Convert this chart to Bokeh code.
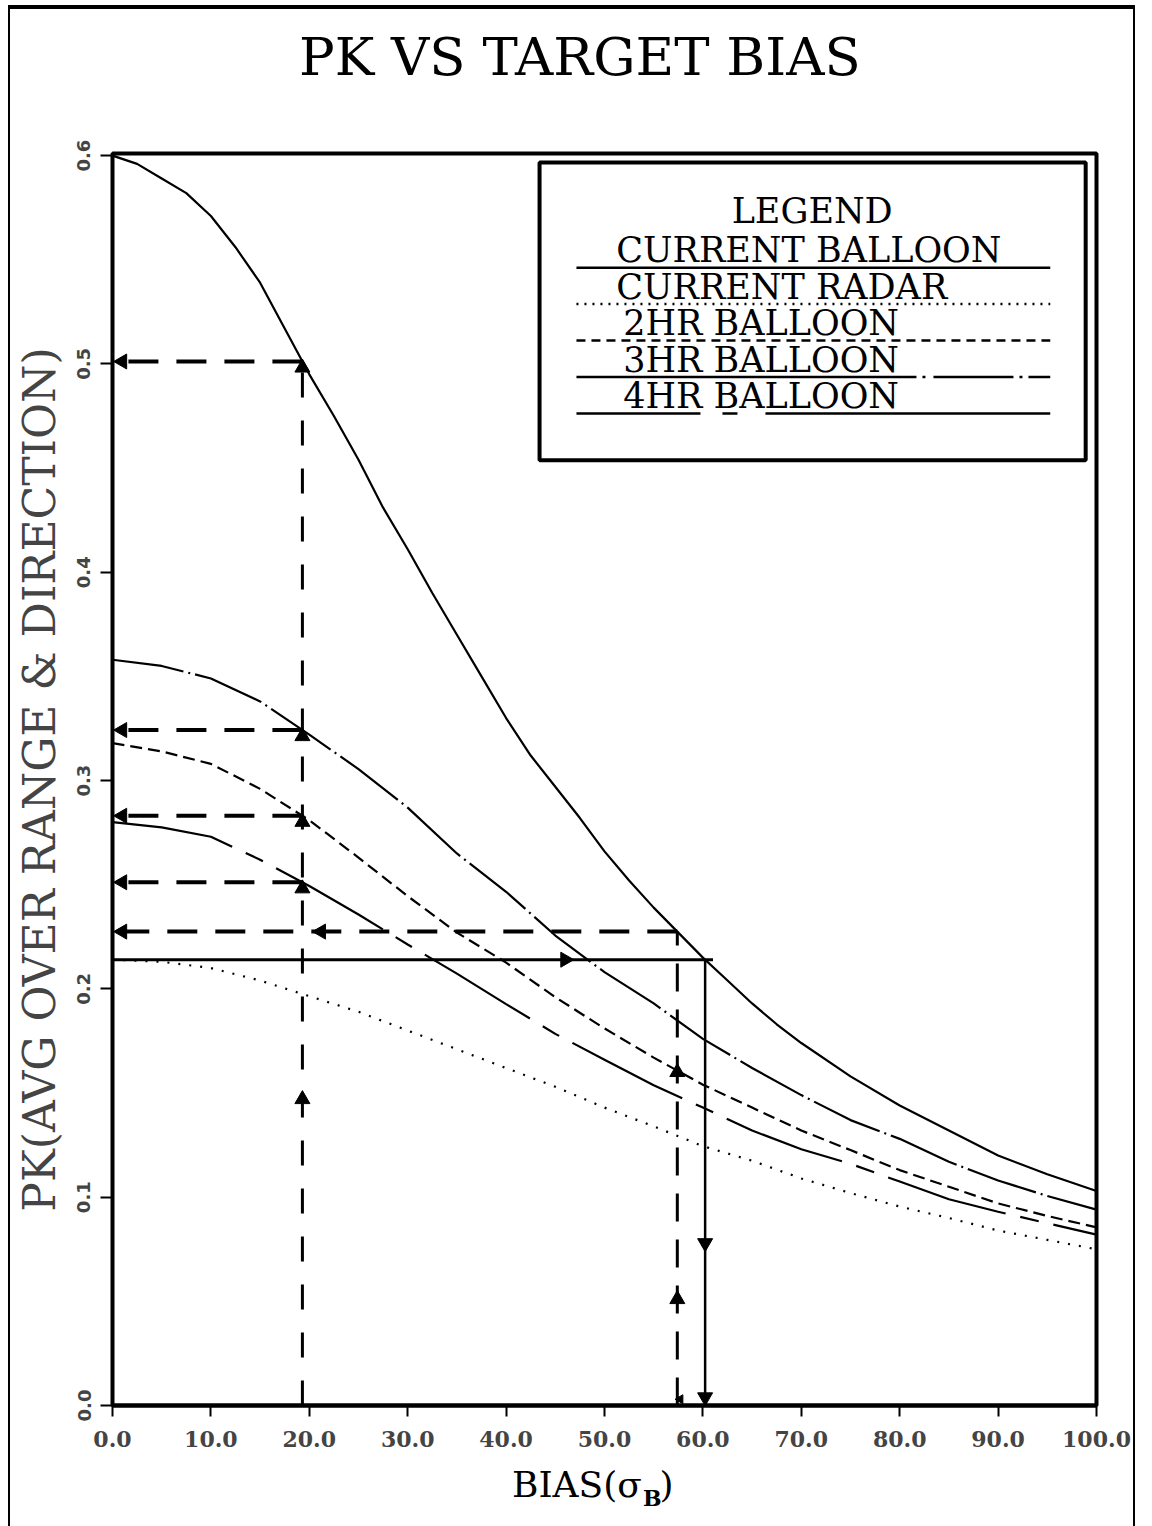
import math
import numpy as np
from bokeh.plotting import figure
from bokeh.layouts import column
from bokeh.models import (Range1d, Label, FixedTicker, PrintfTickFormatter,
                          InlineStyleSheet)
from bokeh.core.properties import value
from bokeh.embed import file_html
from bokeh.resources import INLINE

# ---- data -------------------------------------------------------------
# bias in units of sigma_B
bias_fine = [0, 2.5, 5, 7.5, 10, 12.5, 15, 17.5, 20, 22.5, 25, 27.5, 30, 32.5, 35,
             37.5, 40, 42.5, 45, 47.5, 50, 52.5, 55, 57.5, 60, 62.5, 65, 67.5, 70,
             75, 80, 85, 90, 95, 100]
bias = [0, 5, 10, 15, 20, 25, 30, 35, 40, 45, 50, 55, 60, 65, 70, 75, 80, 85, 90, 95, 100]

current_balloon = [0.600, 0.596, 0.589, 0.582, 0.571, 0.556, 0.539, 0.517, 0.495, 0.475,
                   0.454, 0.431, 0.411, 0.390, 0.370, 0.350, 0.330, 0.312, 0.297, 0.282,
                   0.266, 0.252, 0.239, 0.227, 0.215, 0.204, 0.193, 0.183, 0.174,
                   0.158, 0.144, 0.132, 0.120, 0.111, 0.103]
current_radar = [0.214, 0.213, 0.210, 0.204, 0.1965, 0.189, 0.180, 0.171, 0.162, 0.153,
                 0.143, 0.134, 0.1245, 0.1175, 0.109, 0.102, 0.0955, 0.090, 0.084, 0.0795, 0.075]
balloon_2hr = [0.318, 0.314, 0.308, 0.296, 0.281, 0.263, 0.2445, 0.227, 0.2126, 0.196,
               0.181, 0.167, 0.154, 0.143, 0.132, 0.1226, 0.113, 0.105, 0.097, 0.091, 0.0855]
balloon_3hr = [0.358, 0.355, 0.349, 0.338, 0.322, 0.3055, 0.287, 0.265, 0.2466, 0.2256,
               0.208, 0.193, 0.176, 0.162, 0.149, 0.137, 0.128, 0.117, 0.108, 0.1006, 0.094]
balloon_4hr = [0.280, 0.2775, 0.273, 0.262, 0.2494, 0.2357, 0.2213, 0.2073, 0.1927, 0.1784,
               0.166, 0.1537, 0.143, 0.132, 0.123, 0.116, 0.1075, 0.099, 0.093, 0.0875, 0.082]

legend_names = ["CURRENT BALLOON", "CURRENT RADAR", "2HR BALLOON", "3HR BALLOON", "4HR BALLOON"]

read_bias = 19.3
read_bias_2 = 57.4

x_ticks = [0, 10, 20, 30, 40, 50, 60, 70, 80, 90, 100]
y_ticks = [0.0, 0.1, 0.2, 0.3, 0.4, 0.5, 0.6]

title_text = "PK VS TARGET BIAS"
y_title = "PK(AVG OVER RANGE & DIRECTION)"
x_title_parts = ["BIAS(\u03c3", "B", ")"]

# ---- styles -------------------------------------------------------------
SERIF = "DejaVu Serif"
W = 1152
LEFT, RIGHT = 112, 56
TOP_H, MAIN_H, BOT_H = 100, 1362, 64

series = [
    (bias_fine, current_balloon, "solid", "solid"),
    (bias, current_radar, "2 9", "2 6"),
    (bias, balloon_2hr, "12 6", "9 6"),
    (bias, balloon_3hr, "72 5 2 5", "340 6 3 8 80 6 3 6"),
    (bias, balloon_4hr, "123 15 19 15", "124 22 15 28 300 10"),
]


def strip(y0, y1):
    """Blank strip sharing the main plot's horizontal scale; y in page pixels."""
    f = figure(width=W, height=y1 - y0, output_backend="svg", toolbar_location=None,
               x_range=Range1d(0, 100), y_range=Range1d(y1, y0),
               x_axis_type=None, y_axis_type=None,
               min_border_left=LEFT, min_border_right=RIGHT,
               min_border_top=0, min_border_bottom=0)
    f.grid.visible = False
    f.outline_line_color = None
    f.background_fill_color = "white"
    f.border_fill_color = "white"
    return f


# ---- title strip --------------------------------------------------------
top = strip(0, TOP_H)
top.text(x=[47.5], y=[56], text=[title_text], text_font=value(SERIF),
         text_font_size=value("53px"), text_align="center", text_baseline="alphabetic",
         text_color="black")

# ---- main plot ----------------------------------------------------------
p = figure(width=W, height=MAIN_H, output_backend="svg", toolbar_location=None,
           x_range=Range1d(0, 100), y_range=Range1d(0, 0.601),
           min_border_left=LEFT, min_border_right=RIGHT, min_border_top=53,
           min_border_bottom=57)
p.grid.visible = False
p.background_fill_color = "white"
p.border_fill_color = "white"
p.outline_line_color = "black"
p.outline_line_width = 4

xa = p.xaxis[0]
xa.ticker = FixedTicker(ticks=x_ticks)
xa.formatter = PrintfTickFormatter(format="%.1f")
xa.axis_line_width = 4
xa.major_tick_in = 0
xa.major_tick_out = 11
xa.major_tick_line_width = 2
xa.minor_tick_line_color = None
xa.major_label_text_font = SERIF
xa.major_label_text_font_style = "bold"
xa.major_label_text_font_size = "22px"
xa.major_label_standoff = 14
xa.axis_label = None

ya = p.yaxis[0]
ya.ticker = FixedTicker(ticks=y_ticks)
ya.formatter = PrintfTickFormatter(format="%.1f")
ya.axis_line_width = 3
ya.major_tick_in = 0
ya.major_tick_out = 12
ya.major_tick_line_width = 2
ya.minor_tick_line_color = None
ya.major_label_orientation = "vertical"
ya.major_label_text_font = "DejaVu Sans"
ya.major_label_text_font_style = "bold"
ya.major_label_text_font_size = "18px"
ya.major_label_standoff = 10
ya.axis_label = y_title
ya.axis_label_text_font = SERIF
ya.axis_label_text_font_style = "normal"
ya.axis_label_text_font_size = "44px"
ya.axis_label_standoff = 10

for xs, ys, dash, _ in series:
    p.line(xs, ys, line_color="black", line_width=2.2, line_dash=dash)

# ---- reading lines ------------------------------------------------------
def at(xs, ys, b):
    return float(np.interp(b, xs, ys))

levels = [at(bias_fine, current_balloon, read_bias),
          at(bias, balloon_3hr, read_bias),
          at(bias, balloon_2hr, read_bias),
          at(bias, balloon_4hr, read_bias)]
level_2 = at(bias_fine, current_balloon, read_bias_2)
radar0 = current_radar[0]
# bias at which the current balloon drops to the radar's zero-bias PK
match_bias = float(np.interp(radar0, current_balloon[::-1], bias_fine[::-1]))

for v in levels:
    p.line([read_bias, 0], [v, v], line_color="black", line_width=4, line_dash="30 18")
p.line([read_bias_2, 0], [level_2, level_2], line_color="black", line_width=4,
       line_dash="30 18")
p.line([read_bias, read_bias], [0, levels[0]], line_color="black", line_width=3,
       line_dash="25 23")
p.line([read_bias_2, read_bias_2], [0, level_2], line_color="black", line_width=3,
       line_dash="28 18")
p.line([0, match_bias + 0.8], [radar0, radar0], line_color="black", line_width=3)
p.line([match_bias, match_bias], [radar0, 0], line_color="black", line_width=2.5)

head = dict(marker="triangle", size=15, color="black")
p.scatter([read_bias] * 4, [v - 0.003 for v in levels], angle=0, **head)
p.scatter([read_bias, read_bias_2, read_bias_2], [0.147, 0.160, 0.051], angle=0, **head)
p.scatter([1.0] * 5 + [21.2], levels + [level_2, level_2], angle=math.pi / 2, **head)
p.scatter([46.0], [radar0], angle=-math.pi / 2, **head)
p.scatter([match_bias, match_bias], [0.078, 0.004], angle=math.pi, **head)
p.scatter([read_bias_2 + 0.3], [0.003], angle=math.pi / 2, marker="triangle", size=9,
          color="black")

# ---- legend box ---------------------------------------------------------
p.quad(left=43.4, right=98.9, top=0.5967, bottom=0.4537, fill_color=None,
       line_color="black", line_width=4)
p.add_layout(Label(x=71.1, y=0.5734, text="LEGEND", text_align="center",
                   text_baseline="alphabetic", text_font=SERIF,
                   text_font_size="35px", text_color="black"))
row_step = 0.0175
for k, (name, (_, _, _, ldash)) in enumerate(zip(legend_names, series)):
    base = 0.5545 - k * row_step
    p.add_layout(Label(x=51.2 if k < 2 else 51.9, y=base, text=name,
                       text_align="left", text_baseline="alphabetic",
                       text_font=SERIF, text_font_size="35px", text_color="black"))
    yl = base - 0.0083
    p.line([47.15, 95.3], [yl, yl], line_color="black", line_width=2.5,
           line_dash=ldash)

# ---- x title strip ------------------------------------------------------
bot = strip(TOP_H + MAIN_H, TOP_H + MAIN_H + BOT_H)
bot.text(x=[53.8], y=[1484], text=[x_title_parts[0]], text_font=value(SERIF),
         text_font_size=value("36px"), text_align="right", text_baseline="alphabetic")
bot.text(x=[53.9], y=[1497], text=[x_title_parts[1]], text_font=value(SERIF),
         text_font_style="bold", text_font_size=value("22px"), text_align="left",
         text_baseline="alphabetic")
bot.text(x=[55.6], y=[1484], text=[x_title_parts[2]], text_font=value(SERIF),
         text_font_size=value("36px"), text_align="left", text_baseline="alphabetic")

page = column(top, p, bot, spacing=0)
page.stylesheets = [InlineStyleSheet(css="""
:host { position: relative; }
:host::after {
  content: ""; position: absolute; left: 8px; top: 5px; width: 1127px; height: 1521px;
  border-left: 2px solid #000; border-top: 4px solid #000; border-right: 2px solid #000;
  box-sizing: border-box; pointer-events: none;
}
""")]

open("out.html", "w").write(file_html(page, INLINE))
